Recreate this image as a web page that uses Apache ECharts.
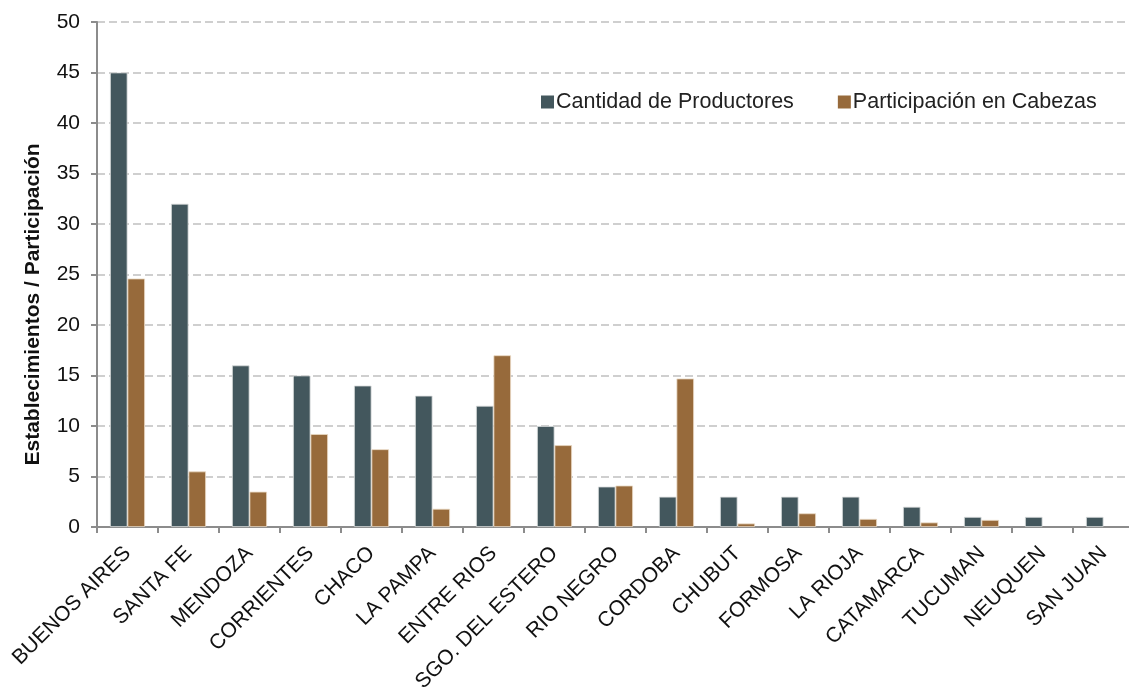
<!DOCTYPE html>
<html>
<head>
<meta charset="utf-8">
<script src="https://cdn.jsdelivr.net/npm/echarts@6/dist/echarts.min.js"></script>
<style>html,body{margin:0;padding:0;background:#fff;overflow:hidden;width:1129px;height:690px;}#c{width:1141px;height:690px;}</style>
</head>
<body>
<div id="c"></div>
<script>
const categories = ["BUENOS AIRES","SANTA FE","MENDOZA","CORRIENTES","CHACO","LA PAMPA","ENTRE RIOS","SGO. DEL ESTERO","RIO NEGRO","CORDOBA","CHUBUT","FORMOSA","LA RIOJA","CATAMARCA","TUCUMAN","NEUQUEN","SAN JUAN"];
const productores = [45,32,16,15,14,13,12,10,4,3,3,3,3,2,1,1,1];
const participacion = [24.6,5.5,3.5,9.2,7.7,1.8,17,8.1,4.1,14.7,0.35,1.35,0.8,0.45,0.7,0,0];
const yTicks = {min:0, max:50, interval:5};
const seriesNames = ["Cantidad de Productores","Participación en Cabezas"];

function toItems(arr){
  return arr.map(v => v === 0 ? {value:v, itemStyle:{borderWidth:0, opacity:0}} : v);
}

const chart = echarts.init(document.getElementById('c'), null, {renderer:'canvas'});
const font = 'Liberation Sans, Arial, sans-serif';
chart.setOption({
  animation:false,
  backgroundColor:'#ffffff',
  textStyle:{fontFamily:font},
  legend:{
    left:536, top:86, itemWidth:13, itemHeight:13, itemGap:44,
    icon:'rect',
    itemStyle:{borderWidth:0},
    textStyle:{fontSize:21.5, color:'#222', fontFamily:font, padding:[0,0,0,-3]},
    data:seriesNames
  },
  grid:{left:97, right:7, top:22, bottom:163, containLabel:false, outerBoundsMode:'none'},
  xAxis:{
    type:'category', data:categories,
    axisLine:{lineStyle:{color:'#8c8c8c', width:2}},
    axisTick:{show:true, length:6, lineStyle:{color:'#8c8c8c', width:2}},
    axisLabel:{rotate:45, fontSize:21, color:'#111', fontFamily:font, margin:23, interval:0}
  },
  yAxis:{
    type:'value', min:yTicks.min, max:yTicks.max, interval:yTicks.interval,
    name:'Establecimientos / Participación', nameLocation:'middle', nameGap:53,
    nameTextStyle:{fontSize:21, fontWeight:'bold', color:'#111', fontFamily:font, padding:[0,60,0,0]},
    axisLine:{show:true, lineStyle:{color:'#8c8c8c', width:2}},
    axisTick:{show:true, length:6, lineStyle:{color:'#8c8c8c', width:2}},
    axisLabel:{fontSize:21, color:'#111', fontFamily:font, margin:17},
    splitLine:{lineStyle:{color:'#c0c0c0', type:[8,4], width:1.5}}
  },
  series:[
    {name:seriesNames[0], type:'bar', data:toItems(productores), barWidth:17.5, barGap:'0%',
     itemStyle:{color:'#43575d', borderColor:'#d9dcdc', borderWidth:0.8}},
    {name:seriesNames[1], type:'bar', data:toItems(participacion), barWidth:17.5, barGap:'0%',
     itemStyle:{color:'#976a3b', borderColor:'#ead9c4', borderWidth:0.8}}
  ]
});
</script>
</body>
</html>
